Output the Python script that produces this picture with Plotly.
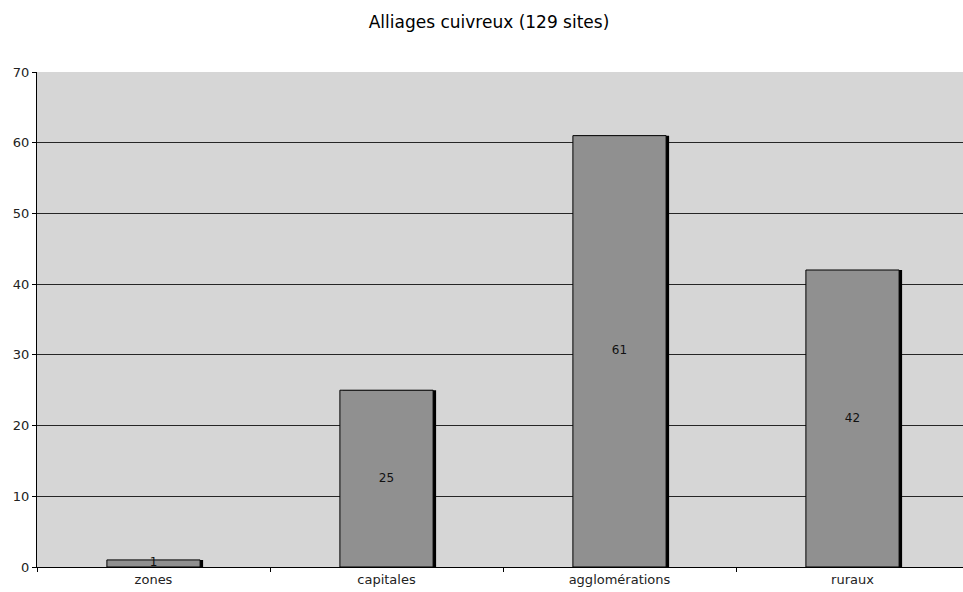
import plotly.graph_objects as go

categories = ["zones", "capitales", "agglomérations", "ruraux"]
values = [1, 25, 61, 42]
labels = [str(v) for v in values]
title_text = "Alliages cuivreux (129 sites)"

W, H = 963, 592
ml, mr, mt, mb = 37, 0, 72, 25
cat_px = 233.0
shadow_dx = 3.0 / cat_px
FONT = "DejaVu Sans, Verdana, sans-serif"

fig = go.Figure()
# shadow
fig.add_trace(go.Bar(
    x=categories, y=values, width=0.4, offset=-0.2 + shadow_dx,
    marker=dict(color="#000000", line=dict(width=0)),
    hoverinfo="skip", showlegend=False,
))
# main bars
fig.add_trace(go.Bar(
    x=categories, y=values, width=0.4, offset=-0.2,
    marker=dict(color="#909090", line=dict(color="#000000", width=1)),
    showlegend=False,
))
# value labels at bar mid-height
fig.add_trace(go.Scatter(
    x=categories, y=[v / 2 for v in values], text=labels, mode="text",
    textfont=dict(family=FONT, size=12, color="#111111"),
    textposition="middle center", showlegend=False, hoverinfo="skip",
))

x_right = -0.5 + (W - ml - mr) / cat_px

fig.update_layout(
    width=W, height=H,
    margin=dict(l=ml, r=mr, t=mt, b=mb, pad=0),
    barmode="overlay",
    paper_bgcolor="#ffffff",
    plot_bgcolor="#d6d6d6",
    title=dict(text=title_text, x=489 / W, xanchor="center", y=1 - 22 / H, yanchor="middle",
               yref="container",
               font=dict(family=FONT, size=17, color="#000000")),
    font=dict(family=FONT, size=13, color="#222222"),
    xaxis=dict(
        type="category", range=[-0.5, x_right],
        showgrid=False, showline=True, linecolor="#000000", linewidth=1,
        ticks="outside", ticklen=4, tickcolor="#000000", tickson="boundaries",
        tickfont=dict(size=13, color="#222222"), zeroline=False,
    ),
    yaxis=dict(
        range=[0, 70], dtick=10, tick0=0,
        showgrid=True, gridcolor="#262626", gridwidth=1,
        showline=True, linecolor="#000000", linewidth=1,
        ticks="outside", ticklen=4, tickcolor="#000000",
        tickfont=dict(size=13, color="#222222"), zeroline=False,
    ),
)

fig.write_html(
    "out.html",
    config={"displayModeBar": False},
    post_script="document.body.style.margin='0';document.body.style.overflow='hidden';",
)
